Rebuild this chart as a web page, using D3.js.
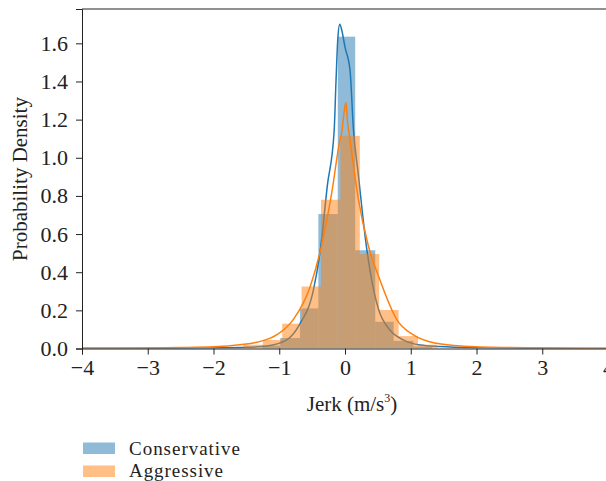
<!DOCTYPE html>
<html>
<head>
<meta charset="utf-8">
<script src="https://cdn.jsdelivr.net/npm/d3@7"></script>
<style>
  body { margin: 0; background: #fff; }
  svg text { font-family: "Liberation Serif", "DejaVu Serif", serif; fill: #222; }
</style>
</head>
<body>
<div id="svg_container"></div>
<script>
/* -----------------------
data
------------------------- */

var series = ['Conservative', 'Aggressive'];

// histogram bin edges and densities
var cons_edges = [-1.26, -0.985, -0.685, -0.405, -0.11, 0.155, 0.46, 0.74, 1.04, 1.33];
var cons_hist  = [0.015, 0.055, 0.21, 0.705, 1.635, 0.515, 0.14, 0.04, 0.01];

var aggr_edges = [-1.545, -1.25, -0.955, -0.66, -0.365, -0.07, 0.225, 0.52, 0.815, 1.11, 1.405];
var aggr_hist  = [0.02, 0.045, 0.13, 0.325, 0.78, 1.115, 0.495, 0.202, 0.065, 0.02];

// kde curves
var cons_kde_x = [-4, -3, -2, -1.5, -1.19, -0.886, -0.684, -0.48, -0.37, -0.27, -0.165, -0.137, -0.11, -0.08, -0.05, 0.0, 0.076, 0.13, 0.2, 0.32, 0.4, 0.506, 0.684, 0.886, 1.14, 1.44, 2, 3, 4];
var cons_kde_y = [0, 0.001, 0.003, 0.006, 0.013, 0.045, 0.13, 0.307, 0.53, 0.85, 1.14, 1.40, 1.62, 1.70, 1.67, 1.58, 1.46, 1.14, 0.92, 0.55, 0.37, 0.21, 0.097, 0.045, 0.018, 0.01, 0.004, 0.001, 0];

var aggr_kde_x = [-4, -3, -2.5, -2, -1.6, -1.3, -1.04, -0.79, -0.53, -0.35, -0.2, -0.076, -0.05, -0.01, 0.015, 0.035, 0.076, 0.2, 0.35, 0.53, 0.79, 1.04, 1.39, 1.8, 2.5, 3, 4];
var aggr_kde_y = [0.002, 0.003, 0.005, 0.009, 0.02, 0.036, 0.071, 0.15, 0.324, 0.55, 0.82, 1.094, 1.13, 1.25, 1.29, 1.2, 1.094, 0.79, 0.545, 0.36, 0.15, 0.071, 0.027, 0.012, 0.005, 0.003, 0.001];

var x_ticks = [-4, -3, -2, -1, 0, 1, 2, 3, 4];
var y_ticks = [0, 0.2, 0.4, 0.6, 0.8, 1.0, 1.2, 1.4, 1.6];

/* -----------------------
main variables
------------------------- */

var width = 606, height = 481;
var plot_l = 82, plot_r = 608, plot_t = 9, plot_b = 348.5;

var c_blue = '#1f77b4',
    c_orange = '#ff7f0e',
    hist_alpha = 0.5;

var font_size = '21px',
    font_tick = '22px',
    font_legend = '19px';

var svg = d3.select('#svg_container')
  .append('svg')
  .attr('width', width)
  .attr('height', height);

var x = d3.scaleLinear().domain([-4, 4]).range([plot_l, plot_r]);
var y = d3.scaleLinear().domain([0, 1.78]).range([plot_b, plot_t]);

svg.append('clipPath').attr('id', 'clip')
  .append('rect')
  .attr('x', plot_l).attr('y', plot_t)
  .attr('width', plot_r - plot_l).attr('height', plot_b - plot_t);

var plot = svg.append('g').attr('clip-path', 'url(#clip)');

function bins(edges, vals) {
  return vals.map(function (v, i) { return {x0: edges[i], x1: edges[i + 1], v: v}; });
}

function drawHist(data, color) {
  plot.append('g')
    .selectAll('rect')
    .data(data)
    .enter()
    .append('rect')
    .attr('x', function (d) { return x(d.x0); })
    .attr('width', function (d) { return x(d.x1) - x(d.x0); })
    .attr('y', function (d) { return y(d.v); })
    .attr('height', function (d) { return y(0) - y(d.v); })
    .attr('fill', color)
    .attr('fill-opacity', hist_alpha);
}

var line = d3.line()
  .x(function (d) { return x(d[0]); })
  .y(function (d) { return y(d[1]); })
  .curve(d3.curveMonotoneX);

function drawKde(xs, ys, color) {
  plot.append('path')
    .datum(d3.zip(xs, ys))
    .attr('d', line)
    .attr('fill', 'none')
    .attr('stroke', color)
    .attr('stroke-width', 1.5);
}

drawHist(bins(cons_edges, cons_hist), c_blue);
drawKde(cons_kde_x, cons_kde_y, c_blue);
drawHist(bins(aggr_edges, aggr_hist), c_orange);
drawKde(aggr_kde_x, aggr_kde_y, c_orange);

/* -----------------------
axes
------------------------- */

var xAxis = svg.append('g')
  .attr('transform', 'translate(0,' + plot_b + ')')
  .call(d3.axisBottom(x).tickValues(x_ticks).tickSizeOuter(0).tickSize(6).tickPadding(5)
    .tickFormat(function (d) { return d < 0 ? '\u2212' + Math.abs(d) : d; }));

var yAxis = svg.append('g')
  .attr('transform', 'translate(' + plot_l + ',0)')
  .call(d3.axisLeft(y).tickValues(y_ticks).tickSizeOuter(0).tickSize(6).tickPadding(8)
    .tickFormat(d3.format('.1f')));

[xAxis, yAxis].forEach(function (a) {
  a.selectAll('text').attr('font-size', font_tick).attr('fill', '#222')
    .attr('font-family', '"Liberation Serif", serif');
  a.selectAll('line').attr('stroke', '#222');
  a.select('.domain').attr('stroke', '#222');
});

// top spine
svg.append('line')
  .attr('x1', plot_l).attr('x2', plot_r)
  .attr('y1', plot_t).attr('y2', plot_t)
  .attr('stroke', '#222');

// axis labels
var xl = svg.append('text')
  .attr('x', 352)
  .attr('y', 411)
  .attr('text-anchor', 'middle')
  .attr('font-size', font_size);
xl.append('tspan').text('Jerk (m/s');
xl.append('tspan').attr('font-size', '12px').attr('dy', -9).text('3');
xl.append('tspan').attr('dy', 9).text(')');

svg.append('text')
  .attr('transform', 'translate(27,179) rotate(-90)')
  .attr('text-anchor', 'middle')
  .attr('font-size', font_size)
  .text('Probability Density');

/* -----------------------
legend
------------------------- */

var legend = svg.append('g').attr('transform', 'translate(83,0)');
var items = legend.selectAll('g')
  .data(series)
  .enter()
  .append('g');

items.append('rect')
  .attr('y', function (d, i) { return 442.5 + i * 23; })
  .attr('width', 32).attr('height', 11.5)
  .attr('fill', function (d, i) { return i === 0 ? c_blue : c_orange; })
  .attr('fill-opacity', hist_alpha);

items.append('text')
  .attr('x', 46)
  .attr('y', function (d, i) { return 454.5 + i * 22; })
  .attr('font-size', font_legend)
  .attr('textLength', function (d, i) { return i === 0 ? 111 : 94; })
  .text(function (d) { return d; });
</script>
</body>
</html>
